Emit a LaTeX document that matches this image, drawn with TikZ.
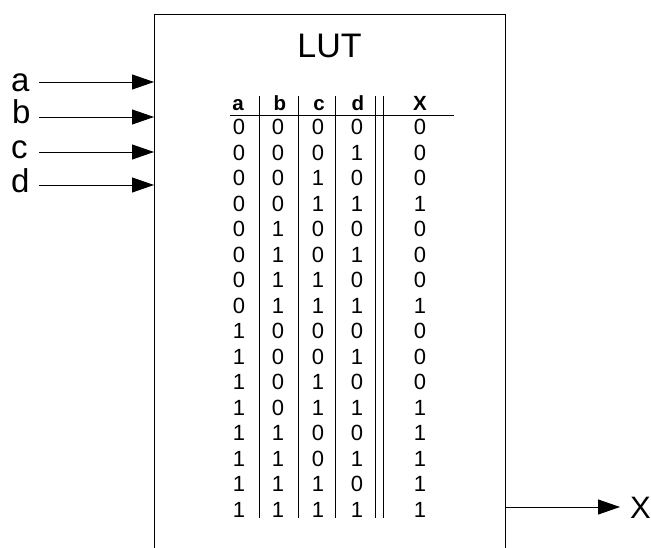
\documentclass[tikz,border=0pt]{standalone}
\usepackage{fontspec}
\setmainfont{Liberation Sans}
\usetikzlibrary{arrows.meta}
\pgfdeclarelayer{edgelayer}
\pgfdeclarelayer{nodelayer}
\pgfsetlayers{edgelayer,nodelayer,main}
\tikzset{font=\fontsize{22}{26}\selectfont}
\tikzstyle{none}=[inner sep=0pt]
\tikzstyle{pinlabel}=[inner sep=0pt,anchor=base west,font=\fontsize{33}{38}\selectfont]
\tikzstyle{colhead}=[inner sep=0pt,anchor=base,font=\fontsize{20.5}{24}\selectfont\bfseries]
\tikzstyle{cell}=[inner sep=0pt,anchor=base]
\tikzstyle{wire}=[line width=0.9pt,-{Triangle[length=22pt,width=15pt]}]
\tikzstyle{rule}=[line width=0.9pt]

\begin{document}
\begin{tikzpicture}[x=1pt,y=-1pt]
	\useasboundingbox (0,0) rectangle (651,548);
	\begin{pgfonlayer}{nodelayer}
		% block outline
		\node [style=none] (0) at (154, 548) {};
		\node [style=none] (1) at (154, 14) {};
		\node [style=none] (2) at (505, 14) {};
		\node [style=none] (3) at (505, 548) {};
		\node [style=none,anchor=base,font=\fontsize{34}{40}\selectfont] (4) at (329.5, 58) {LUT};
		% inputs
		\node [style=pinlabel] (5) at (11, 92) {a};
		\node [style=pinlabel] (6) at (12, 124) {b};
		\node [style=pinlabel] (7) at (11, 159) {c};
		\node [style=pinlabel] (8) at (11, 193) {d};
		\node [style=none] (9) at (39, 82) {};
		\node [style=none] (10) at (154, 82) {};
		\node [style=none] (11) at (39, 117) {};
		\node [style=none] (12) at (154, 117) {};
		\node [style=none] (13) at (39, 152) {};
		\node [style=none] (14) at (154, 152) {};
		\node [style=none] (15) at (39, 185) {};
		\node [style=none] (16) at (154, 185) {};
		% output
		\node [style=none] (17) at (505, 507) {};
		\node [style=none] (18) at (620, 507) {};
		\node [style=pinlabel,font=\fontsize{31}{36}\selectfont] (19) at (630, 518) {X};
		% table head
		\node [style=colhead] (20) at (238, 111) {a};
		\node [style=colhead] (21) at (280, 111) {b};
		\node [style=colhead] (22) at (319, 111) {c};
		\node [style=colhead] (23) at (358, 111) {d};
		\node [style=colhead] (24) at (420, 111) {X};
		\node [style=none] (25) at (230, 115) {};
		\node [style=none] (26) at (454, 115) {};
		\foreach \x [count=\k] in {259,298,335,375,383} {
			\node [style=none] (top\k) at (\x, 96) {};
			\node [style=none] (bot\k) at (\x, 518) {};
		}
		% table body
		\foreach \out [count=\i from 0] in {0,0,0,1,0,0,0,1,0,0,0,1,1,1,1,1} {
			\pgfmathsetmacro\yrow{135+25.47*\i}
			\pgfmathtruncatemacro\ba{floor(\i/8)}
			\pgfmathtruncatemacro\bb{mod(floor(\i/4),2)}
			\pgfmathtruncatemacro\bc{mod(floor(\i/2),2)}
			\pgfmathtruncatemacro\bd{mod(\i,2)}
			\node [style=cell] (a\i) at (239, \yrow) {\ba};
			\node [style=cell] (b\i) at (278, \yrow) {\bb};
			\node [style=cell] (c\i) at (318, \yrow) {\bc};
			\node [style=cell] (d\i) at (357, \yrow) {\bd};
			\node [style=cell] (x\i) at (420, \yrow) {\out};
		}
	\end{pgfonlayer}
	\begin{pgfonlayer}{edgelayer}
		\draw [line width=0.8pt] (0.center) to (1.center) to (2.center) to (3.center);
		\draw [style=wire] (9.center) to (10.center);
		\draw [style=wire] (11.center) to (12.center);
		\draw [style=wire] (13.center) to (14.center);
		\draw [style=wire] (15.center) to (16.center);
		\draw [style=wire] (17.center) to (18.center);
		\draw [style=rule] (25.center) to (26.center);
		\foreach \k in {1,...,5}
			\draw [style=rule] (top\k.center) to (bot\k.center);
	\end{pgfonlayer}
\end{tikzpicture}
\end{document}
